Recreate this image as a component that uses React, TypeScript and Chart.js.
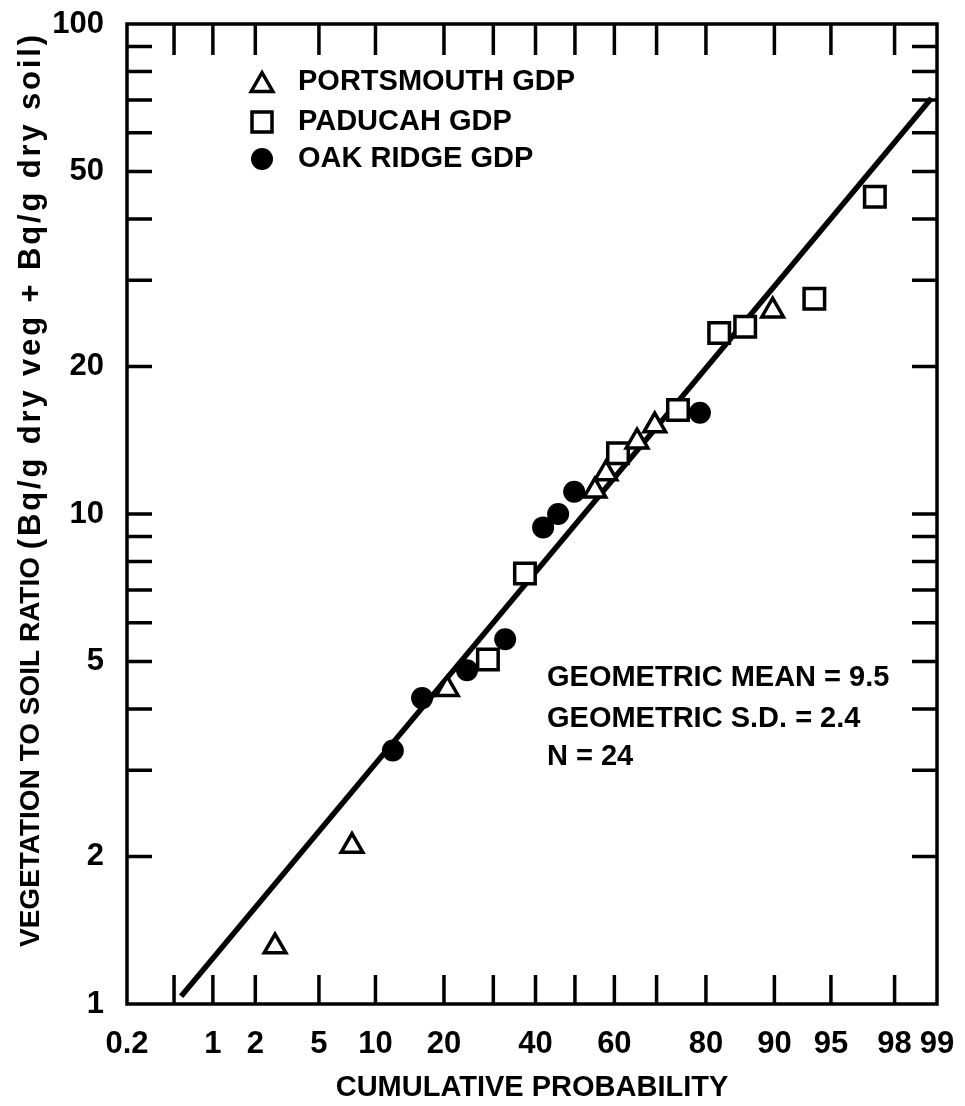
import React, { useEffect, useRef } from 'react';
import { Chart, registerables } from 'chart.js';

Chart.register(...registerables);

// Cumulative probability (%) and vegetation-to-soil ratio for each site
const portsmouthProb = [2.7, 7.6, 20.6, 55.1, 57.9, 65.5, 69.6, 89.8];
const portsmouthRatio = [1.31, 2.1, 4.39, 11.15, 12.1, 14.05, 15.15, 26.0];

const paducahProb = [28.8, 37.4, 60.9, 74.6, 82.3, 86.3, 93.8, 97.3];
const paducahRatio = [5.05, 7.56, 13.3, 16.3, 23.4, 24.1, 27.5, 44.4];

const oakRidgeProb = [12.1, 16.3, 24.4, 32.7, 41.9, 45.7, 49.8, 78.9];
const oakRidgeRatio = [3.29, 4.21, 4.8, 5.55, 9.39, 10.0, 11.1, 16.1];

// Fitted log-normal line
const geometricMean = 9.5;
const geometricSD = 2.4;
const fitRangeProbs = [0.57, 98.9];

// Axis ticks
const xTickProbs = [0.2, 0.5, 1, 2, 5, 10, 20, 30, 40, 50, 60, 70, 80, 90, 95, 98, 99];
const xLabelProbs = [0.2, 1, 2, 5, 10, 20, 40, 60, 80, 90, 95, 98, 99];
const yTickValues = [1, 2, 3, 4, 5, 6, 7, 8, 9, 10, 20, 30, 40, 50, 60, 70, 80, 90, 100];
const yLabelValues = [1, 2, 5, 10, 20, 50, 100];

const legendLabels = ['PORTSMOUTH GDP', 'PADUCAH GDP', 'OAK RIDGE GDP'];

const FONT = "'Liberation Sans', Arial, Helvetica, sans-serif";

// Inverse of the standard normal CDF (Acklam's rational approximation)
function probit(p: number): number {
  const a = [-3.969683028665376e1, 2.209460984245205e2, -2.759285104469687e2, 1.38357751867269e2, -3.066479806614716e1, 2.506628277459239];
  const b = [-5.447609879822406e1, 1.615858368580409e2, -1.556989798598866e2, 6.680131188771972e1, -1.328068155288572e1];
  const c = [-7.784894002430293e-3, -3.223964580411365e-1, -2.400758277161838, -2.549732539343734, 4.374664141464968, 2.938163982698783];
  const d = [7.784695709041462e-3, 3.224671290700398e-1, 2.445134137142996, 3.754408661907416];
  const pl = 0.02425;
  if (p < pl) {
    const q = Math.sqrt(-2 * Math.log(p));
    return (((((c[0] * q + c[1]) * q + c[2]) * q + c[3]) * q + c[4]) * q + c[5]) / ((((d[0] * q + d[1]) * q + d[2]) * q + d[3]) * q + 1);
  }
  if (p <= 1 - pl) {
    const q = p - 0.5;
    const r = q * q;
    return ((((((a[0] * r + a[1]) * r + a[2]) * r + a[3]) * r + a[4]) * r + a[5]) * q) / (((((b[0] * r + b[1]) * r + b[2]) * r + b[3]) * r + b[4]) * r + 1);
  }
  const q = Math.sqrt(-2 * Math.log(1 - p));
  return -(((((c[0] * q + c[1]) * q + c[2]) * q + c[3]) * q + c[4]) * q + c[5]) / ((((d[0] * q + d[1]) * q + d[2]) * q + d[3]) * q + 1);
}

const zOf = (pct: number) => probit(pct / 100);
const toPoints = (probs: number[], ratios: number[]) => probs.map((p, i) => ({ x: zOf(p), y: ratios[i] }));

// Keep axis label overflow from shrinking the plotting area
const noScalePadding = (s: any) => {
  s.paddingTop = 0;
  s.paddingBottom = 0;
  s.paddingLeft = 0;
  s.paddingRight = 0;
};

// Frame with inward tick marks on all four sides
const frameTicks = {
  id: 'frameTicks',
  beforeDatasetsDraw(chart: any) {
    const { ctx, chartArea: a, scales } = chart;
    const xs = scales.x;
    const ys = scales.y;
    ctx.save();
    ctx.strokeStyle = '#000';
    ctx.lineWidth = 3.5;
    ctx.strokeRect(a.left, a.top, a.right - a.left, a.bottom - a.top);
    ctx.beginPath();
    xs.ticks.forEach((t: any) => {
      const px = xs.getPixelForValue(t.value);
      if (px <= a.left + 2 || px >= a.right - 2) return;
      ctx.moveTo(px, a.top);
      ctx.lineTo(px, a.top + 31);
      ctx.moveTo(px, a.bottom);
      ctx.lineTo(px, a.bottom - 29);
    });
    ys.ticks.forEach((t: any) => {
      const py = ys.getPixelForValue(t.value);
      if (py <= a.top + 2 || py >= a.bottom - 2) return;
      ctx.moveTo(a.left, py);
      ctx.lineTo(a.left + 25, py);
      ctx.moveTo(a.right, py);
      ctx.lineTo(a.right - 25, py);
    });
    ctx.stroke();
    ctx.restore();
  },
};

// Legend, summary statistics and the vertical axis title
const annotations = {
  id: 'annotations',
  afterDraw(chart: any) {
    const { ctx } = chart;
    ctx.save();
    ctx.fillStyle = '#000';
    ctx.strokeStyle = '#000';

    // legend markers
    const mx = 262;
    const rows = [82, 122, 159];
    ctx.lineWidth = 3.5;
    ctx.fillStyle = '#fff';
    const r = 12.5;
    const cy = rows[0] + r / 4;
    ctx.beginPath();
    for (let k = 0; k < 3; k++) {
      const ang = (k * 2 * Math.PI) / 3;
      const vx = mx + Math.sin(ang) * r;
      const vy = cy - Math.cos(ang) * r;
      if (k === 0) ctx.moveTo(vx, vy);
      else ctx.lineTo(vx, vy);
    }
    ctx.closePath();
    ctx.fill();
    ctx.stroke();
    ctx.beginPath();
    ctx.rect(mx - 10, rows[1] - 10, 20, 20);
    ctx.fill();
    ctx.stroke();
    ctx.fillStyle = '#000';
    ctx.beginPath();
    ctx.arc(mx, rows[2], 11, 0, Math.PI * 2);
    ctx.fill();

    ctx.font = `bold 29px ${FONT}`;
    ctx.textAlign = 'left';
    ctx.textBaseline = 'middle';
    legendLabels.forEach((t, i) => ctx.fillText(t, 298, rows[i]));

    const n = portsmouthProb.length + paducahProb.length + oakRidgeProb.length;
    ctx.fillText(`GEOMETRIC MEAN = ${geometricMean}`, 547, 678);
    ctx.fillText(`GEOMETRIC S.D. = ${geometricSD}`, 547, 719);
    ctx.fillText(`N = ${n}`, 547, 757);

    // vertical axis title, read bottom to top
    ctx.translate(31, 947);
    ctx.rotate(-Math.PI / 2);
    ctx.font = `bold 28px ${FONT}`;
    const part1 = 'VEGETATION TO SOIL RATIO ';
    const part2 = '(Bq/g dry veg + Bq/g dry soil)';
    ctx.fillText(part1, 0, 0);
    const start2 = ctx.measureText(part1).width;
    ctx.font = `bold 31px ${FONT}`;
    const w2 = ctx.measureText(part2).width;
    const target2 = 947 - 32 - start2;
    const spacing = Math.max(0, (target2 - w2) / part2.length);
    (ctx as any).letterSpacing = `${spacing.toFixed(2)}px`;
    ctx.fillText(part2, start2, 0);
    ctx.restore();
  },
};

export default function App() {
  const canvasRef = useRef<HTMLCanvasElement>(null);

  useEffect(() => {
    const canvas = canvasRef.current;
    if (!canvas) return;
    const tickFont = { family: FONT, weight: 'bold' as const, size: 31 };

    const chart = new Chart(canvas, {
      type: 'scatter',
      data: {
        datasets: [
          {
            label: legendLabels[0],
            data: toPoints(portsmouthProb, portsmouthRatio),
            pointStyle: 'triangle',
            pointRadius: 12.5,
            borderWidth: 3.5,
            backgroundColor: '#fff',
            borderColor: '#000',
            order: 0,
          },
          {
            label: legendLabels[1],
            data: toPoints(paducahProb, paducahRatio),
            pointStyle: 'rect',
            pointRadius: 14.5,
            borderWidth: 3.5,
            backgroundColor: '#fff',
            borderColor: '#000',
            order: 0,
          },
          {
            label: legendLabels[2],
            data: toPoints(oakRidgeProb, oakRidgeRatio),
            pointStyle: 'circle',
            pointRadius: 11,
            borderWidth: 0,
            backgroundColor: '#000',
            borderColor: '#000',
            order: 0,
          },
          {
            label: 'fit',
            data: fitRangeProbs.map((p) => {
              const z = zOf(p);
              return { x: z, y: geometricMean * Math.pow(geometricSD, z) };
            }),
            showLine: true,
            pointRadius: 0,
            borderWidth: 5.5,
            borderColor: '#000',
            backgroundColor: '#000',
            order: 1,
          } as any,
        ],
      },
      options: {
        animation: false,
        responsive: false,
        events: [],
        layout: { padding: { top: 24, right: 28, left: 0, bottom: 0 } },
        plugins: {
          legend: { display: false },
          tooltip: { enabled: false },
        },
        scales: {
          x: {
            type: 'linear',
            min: zOf(0.2),
            max: zOf(99),
            afterBuildTicks: (s: any) => {
              s.ticks = xTickProbs.map((p) => ({ value: zOf(p) }));
            },
            afterFit: (s: any) => {
              s.height = 102;
              noScalePadding(s);
            },
            grid: { display: false, drawTicks: false },
            border: { display: false },
            ticks: {
              autoSkip: false,
              maxRotation: 0,
              minRotation: 0,
              padding: 22,
              color: '#000',
              font: tickFont,
              callback: (_v: any, i: number) => {
                const p = xTickProbs[i];
                return xLabelProbs.includes(p) ? String(p) : '';
              },
            },
            title: {
              display: true,
              text: 'CUMULATIVE PROBABILITY',
              color: '#000',
              font: { family: FONT, weight: 'bold', size: 29 },
              padding: { top: 0, bottom: 1 },
            },
          },
          y: {
            type: 'logarithmic',
            min: 1,
            max: 100,
            afterBuildTicks: (s: any) => {
              s.ticks = yTickValues.map((v) => ({ value: v }));
            },
            afterFit: (s: any) => {
              s.width = 127;
              noScalePadding(s);
            },
            grid: { display: false, drawTicks: false },
            border: { display: false },
            ticks: {
              autoSkip: false,
              padding: 23,
              color: '#000',
              font: tickFont,
              callback: (v: any) => (yLabelValues.includes(Number(v)) ? String(v) : ''),
            },
          },
        },
      },
      plugins: [frameTicks, annotations],
    });

    return () => chart.destroy();
  }, []);

  return (
    <div style={{ position: 'absolute', left: 0, top: 0, width: 965, height: 1106, background: '#fff' }}>
      <canvas ref={canvasRef} width={965} height={1106} style={{ display: 'block' }} />
    </div>
  );
}
